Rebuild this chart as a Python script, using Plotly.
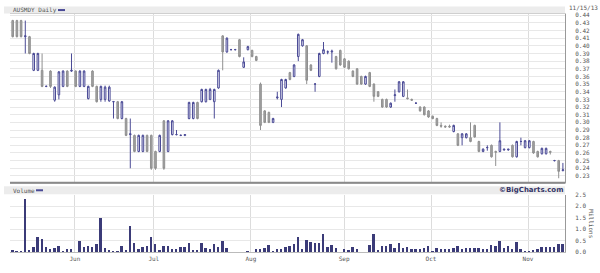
import plotly.graph_objects as go

# ---- data ----
opens = [0.433,0.433,0.433,0.412,0.412,0.368,0.368,0.368,0.347,0.367,
         0.329,0.336,0.347,0.367,0.367,0.367,0.347,0.347,0.331,0.367,
         0.347,0.330,0.330,0.328,0.327,0.327,0.305,0.305,0.284,0.283,
         0.262,0.262,0.283,0.283,0.262,0.262,0.302,0.262,0.284,0.284,
         0.283,0.283,0.305,0.305,0.326,0.327,0.327,0.330,0.327,0.345,
         0.413,0.392,0.395,0.395,0.408,0.372,0.395,0.394,0.386,0.350,
         0.315,0.313,0.300,0.332,0.330,0.345,0.365,0.360,0.386,0.400,
         0.400,0.375,0.350,0.360,0.390,0.392,0.392,0.386,0.394,0.383,
         0.380,0.367,0.370,0.360,0.350,0.365,0.350,0.340,0.330,0.330,
         0.320,0.335,0.340,0.334,0.332,0.330,0.325,0.320,0.320,0.315,
         0.308,0.305,0.296,0.295,0.295,0.288,0.285,0.280,0.280,0.280,
         0.296,0.275,0.262,0.267,0.270,0.262,0.262,0.264,0.264,0.270,
         0.255,0.275,0.267,0.267,0.275,0.262,0.259,0.259,0.262,0.250,
         0.250,0.237]
highs = [0.434,0.434,0.434,0.433,0.413,0.391,0.391,0.390,0.348,0.368,
         0.347,0.367,0.368,0.368,0.390,0.368,0.368,0.368,0.348,0.368,
         0.348,0.348,0.348,0.348,0.328,0.328,0.328,0.306,0.305,0.284,
         0.284,0.284,0.284,0.284,0.263,0.284,0.303,0.303,0.303,0.290,
         0.284,0.284,0.327,0.327,0.327,0.344,0.344,0.345,0.344,0.369,
         0.414,0.411,0.396,0.396,0.409,0.385,0.400,0.395,0.387,0.352,
         0.316,0.314,0.306,0.340,0.357,0.357,0.366,0.376,0.416,0.409,
         0.401,0.376,0.351,0.391,0.405,0.394,0.395,0.387,0.395,0.384,
         0.381,0.368,0.371,0.361,0.361,0.366,0.351,0.341,0.331,0.331,
         0.326,0.343,0.354,0.354,0.343,0.331,0.326,0.321,0.321,0.316,
         0.309,0.306,0.300,0.296,0.297,0.297,0.286,0.286,0.286,0.300,
         0.297,0.276,0.266,0.270,0.271,0.263,0.300,0.265,0.265,0.271,
         0.276,0.280,0.277,0.277,0.276,0.263,0.267,0.267,0.263,0.251,
         0.251,0.247]
lows = [0.411,0.411,0.411,0.390,0.389,0.367,0.367,0.346,0.346,0.345,
        0.327,0.330,0.346,0.346,0.366,0.346,0.346,0.346,0.330,0.346,
        0.326,0.327,0.327,0.327,0.305,0.304,0.304,0.282,0.240,0.261,
        0.261,0.261,0.261,0.238,0.238,0.261,0.238,0.261,0.283,0.283,
        0.282,0.282,0.304,0.304,0.304,0.326,0.326,0.329,0.305,0.344,
        0.368,0.391,0.394,0.394,0.385,0.371,0.394,0.385,0.380,0.290,
        0.299,0.299,0.299,0.330,0.320,0.344,0.355,0.359,0.380,0.399,
        0.350,0.367,0.340,0.359,0.389,0.389,0.378,0.369,0.374,0.371,
        0.369,0.359,0.349,0.349,0.349,0.346,0.327,0.333,0.319,0.319,
        0.319,0.327,0.339,0.333,0.330,0.328,0.324,0.314,0.309,0.306,
        0.304,0.295,0.293,0.293,0.293,0.287,0.269,0.270,0.279,0.274,
        0.280,0.261,0.261,0.263,0.254,0.243,0.261,0.263,0.263,0.254,
        0.254,0.270,0.266,0.266,0.259,0.254,0.258,0.258,0.258,0.249,
        0.227,0.236]
closes = [0.412,0.412,0.412,0.413,0.390,0.390,0.390,0.347,0.3471,0.347,
          0.346,0.366,0.367,0.347,0.368,0.347,0.367,0.367,0.347,0.347,
          0.327,0.347,0.346,0.346,0.3271,0.305,0.327,0.283,0.285,0.262,
          0.283,0.283,0.262,0.240,0.240,0.283,0.240,0.302,0.302,0.2841,
          0.2831,0.284,0.326,0.326,0.305,0.343,0.343,0.343,0.343,0.368,
          0.392,0.410,0.3951,0.3951,0.386,0.379,0.399,0.386,0.381,0.296,
          0.300,0.300,0.305,0.333,0.356,0.356,0.356,0.375,0.415,0.408,
          0.355,0.368,0.3501,0.390,0.395,0.3921,0.393,0.370,0.375,0.372,
          0.370,0.360,0.350,0.350,0.360,0.347,0.334,0.334,0.320,0.320,
          0.325,0.336,0.353,0.353,0.331,0.329,0.3251,0.315,0.310,0.307,
          0.305,0.296,0.295,0.294,0.294,0.296,0.270,0.285,0.285,0.275,
          0.281,0.262,0.265,0.2671,0.255,0.261,0.276,0.265,0.265,0.255,
          0.275,0.2751,0.276,0.276,0.260,0.255,0.266,0.266,0.261,0.2501,
          0.236,0.238]
volume_m = [0.10,0.07,0.04,2.34,0.10,0.24,0.68,0.56,0.22,0.14,
            0.19,0.27,0.04,0.13,0.13,0.01,0.50,0.24,0.29,0.22,
            0.36,1.51,0.17,0.10,0.02,0.02,0.26,0.10,1.15,0.39,
            0.16,0.24,0.27,0.68,0.36,0.10,0.27,0.27,0.16,0.13,
            0.23,0.23,0.39,0.09,0.09,0.39,0.19,0.14,0.36,0.22,
            0.50,0.17,0.00,0.00,0.00,0.00,0.07,0.00,0.13,0.14,
            0.20,0.32,0.04,0.14,0.14,0.23,0.26,0.34,0.65,0.13,
            0.52,0.43,0.39,0.39,0.80,0.22,0.33,0.17,0.00,0.13,
            0.11,0.24,0.13,0.00,0.00,0.33,0.80,0.09,0.29,0.29,
            0.36,0.19,0.40,0.17,0.22,0.16,0.16,0.14,0.17,0.27,
            0.04,0.20,0.16,0.13,0.14,0.17,0.27,0.14,0.19,0.17,
            0.20,0.20,0.14,0.13,0.32,0.27,0.50,0.17,0.26,0.13,
            0.47,0.13,0.04,0.04,0.10,0.14,0.24,0.22,0.23,0.24,
            0.34,0.34]
day_index = list(range(len(closes)))
month_labels = ["Jun", "Jul", "Aug", "Sep", "Oct", "Nov"]
month_pos = [14.8, 33.6, 56.7, 78.9, 99.6, 122.7]
price_ticks = [round(0.22 + 0.01 * k, 2) for k in range(23)]
vol_ticks = [0.0, 0.5, 1.0, 1.5, 2.0, 2.5]

W, H = 600, 273
L, R, T, B = 10, 35, 14, 18
ph = H - T - B
pw = W - L - R

def py(y):  # pixel y -> paper y
    return (H - B - y) / ph

def px(x):  # pixel x -> paper x
    return (x - L) / pw

fig = go.Figure()
fig.add_trace(go.Candlestick(
    x=day_index, open=opens, high=highs, low=lows, close=closes,
    increasing=dict(line=dict(color="#4a4a96", width=1), fillcolor="#f2f2fa"),
    decreasing=dict(line=dict(color="#909090", width=1), fillcolor="#a3a3a3"),
    whiskerwidth=0, xaxis="x", yaxis="y", showlegend=False, hoverinfo="skip"))
fig.add_trace(go.Bar(
    x=day_index, y=volume_m, marker=dict(color="#3b3b78", line=dict(width=0)),
    width=0.45, xaxis="x2", yaxis="y2", showlegend=False, hoverinfo="skip"))

tickfont = dict(family="DejaVu Sans Mono", size=6, color="#555")
xr = [-0.64, 131.5]
fig.update_layout(
    width=W, height=H, margin=dict(l=L, r=R, t=T, b=B),
    paper_bgcolor="white", plot_bgcolor="white",
    boxgap=0.45,
    xaxis=dict(domain=[0, 1], range=xr, rangeslider=dict(visible=False),
               tickvals=month_pos, showticklabels=False, ticks="",
               showgrid=True, gridcolor="#dcdcdc", gridwidth=1, zeroline=False,
               showline=True, linecolor="#cfcfcf", mirror=True),
    yaxis=dict(domain=[py(185.5), 1], range=[0.2203, 0.4416], side="right",
               tickvals=price_ticks, ticktext=["%.2f" % v for v in price_ticks],
               tickfont=tickfont, ticks="", ticklabelstandoff=8,
               showgrid=True, gridcolor="#e8e8e8", gridwidth=1, zeroline=False,
               showline=True, linecolor="#999", linewidth=1),
    xaxis2=dict(domain=[0, 1], range=xr, anchor="y2",
                tickvals=month_pos, ticktext=month_labels, tickfont=tickfont,
                ticks="", ticklabelstandoff=1,
                showgrid=True, gridcolor="#dcdcdc", gridwidth=1, zeroline=False,
                showline=True, linecolor="#bbb", linewidth=1),
    yaxis2=dict(domain=[0, py(197)], range=[0, 2.5], side="right", anchor="x2",
                tickvals=vol_ticks, ticktext=["%.1f" % v for v in vol_ticks],
                tickfont=tickfont, ticks="", ticklabelstandoff=8,
                showgrid=True, gridcolor="#e8e8e8", gridwidth=1, zeroline=False,
                showline=True, linecolor="#999", linewidth=1),
    bargap=0,
)

shapes = []
# title strips
shapes.append(dict(type="rect", xref="paper", yref="paper", x0=px(4), x1=1.0,
                   y0=py(13.5), y1=py(6.5), fillcolor="#ececec", line=dict(width=0), layer="below"))
shapes.append(dict(type="rect", xref="paper", yref="paper", x0=px(4), x1=1.0,
                   y0=py(196.5), y1=py(188.5), fillcolor="#ececec", line=dict(width=0), layer="below"))
# price panel bottom border
shapes.append(dict(type="line", xref="paper", yref="paper", x0=0, x1=1.0,
                   y0=py(185), y1=py(185), line=dict(color="#8a8a8a", width=2)))
# legend swatches
shapes.append(dict(type="line", xref="paper", yref="paper",
                   x0=px(58), x1=px(65), y0=py(10), y1=py(10),
                   line=dict(color="#4a4a96", width=2)))
shapes.append(dict(type="line", xref="paper", yref="paper",
                   x0=px(36), x1=px(43), y0=py(192.5), y1=py(192.5),
                   line=dict(color="#4a4a96", width=2)))
fig.update_layout(shapes=shapes)

small = dict(family="DejaVu Sans Mono", size=6, color="#555")
ann = []
ann.append(dict(text="AUSMDY Daily", xref="paper", yref="paper",
                x=px(11), y=py(10), xanchor="left", yanchor="middle",
                showarrow=False, font=small))
ann.append(dict(text="Volume", xref="paper", yref="paper",
                x=px(11), y=py(192.5), xanchor="left", yanchor="middle",
                showarrow=False, font=small))
ann.append(dict(text="<b>©BigCharts.com</b>", xref="paper", yref="paper",
                x=1.0, y=py(192.5), xanchor="right", yanchor="middle",
                showarrow=False, font=dict(family="DejaVu Sans", size=7, color="#333366")))
ann.append(dict(text="11/15/13", xref="paper", yref="paper",
                x=px(600), y=py(7), xanchor="right", yanchor="middle",
                showarrow=False, font=small))
ann.append(dict(text="Millions", xref="paper", yref="paper",
                x=px(592), y=py(226), xanchor="center", yanchor="middle",
                textangle=90, showarrow=False, font=small))
fig.update_layout(annotations=ann)

fig.write_html("out.html")
